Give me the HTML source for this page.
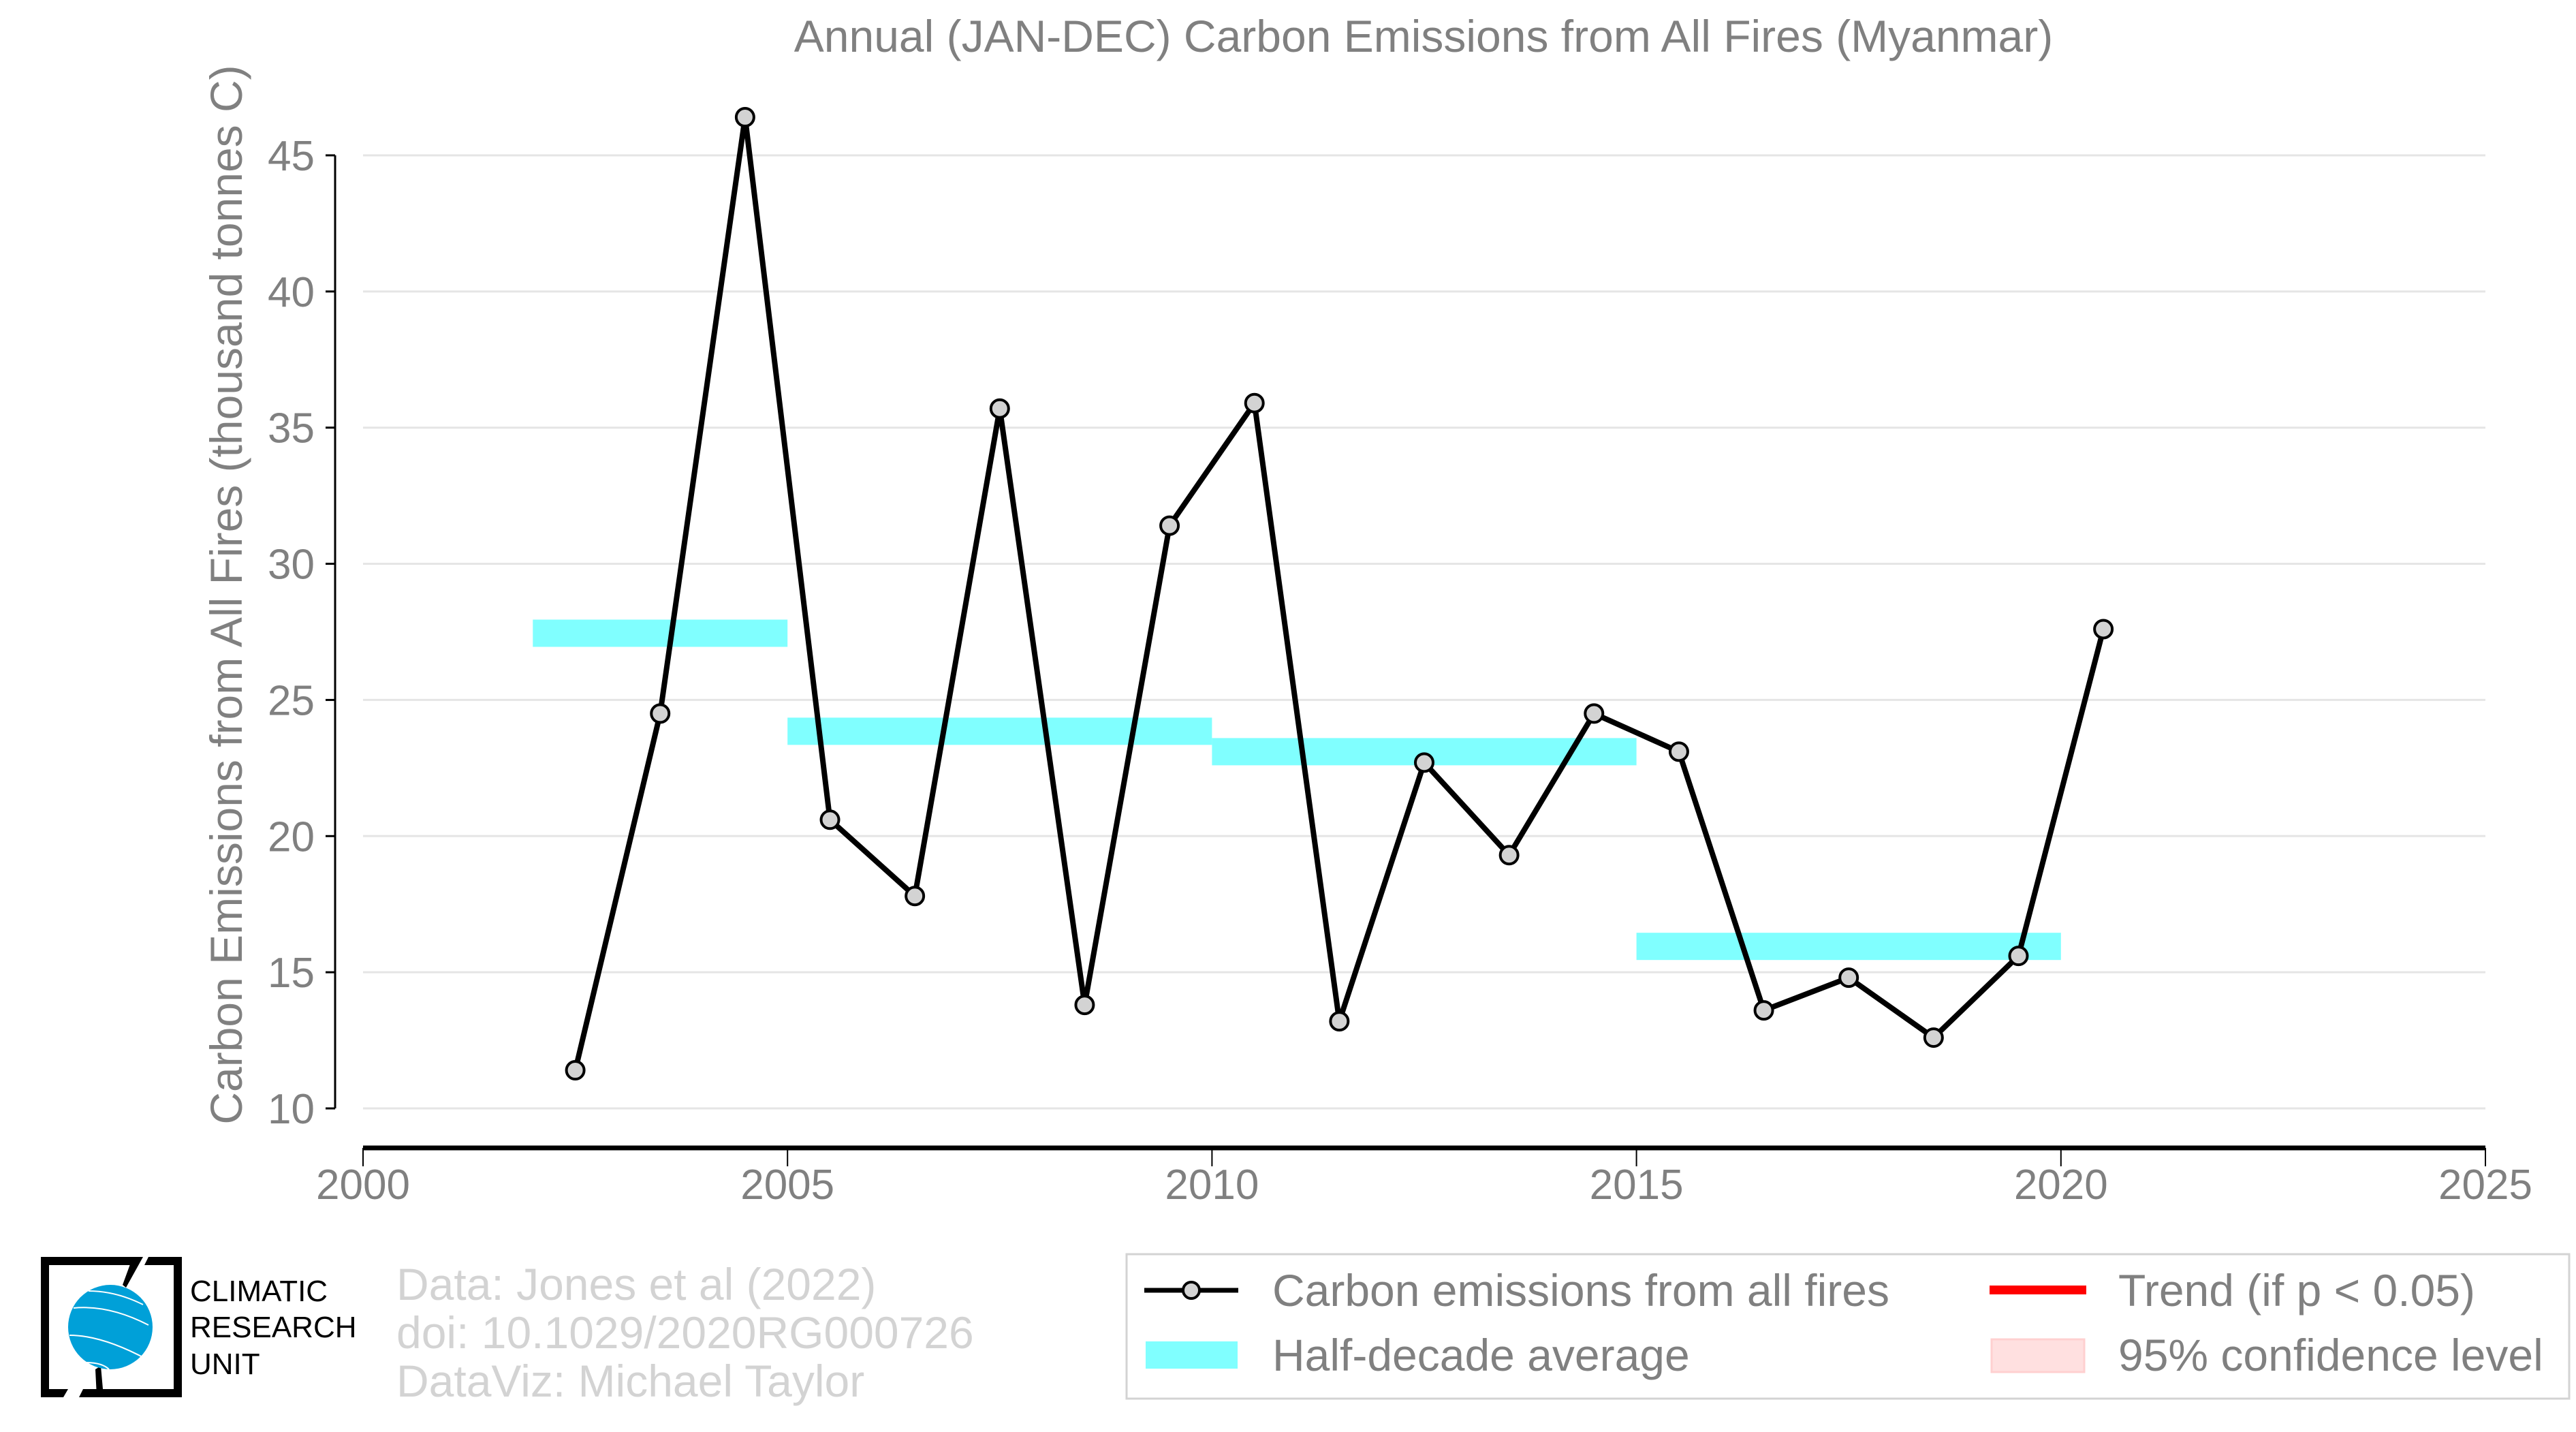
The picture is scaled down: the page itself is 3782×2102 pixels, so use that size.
<!DOCTYPE html>
<html><head><meta charset="utf-8"><style>
html,body{margin:0;padding:0;background:#fff;}
svg{display:block;font-family:"Liberation Sans",sans-serif;}
</style></head><body>
<svg id="chart" width="3782" height="2102" viewBox="0 0 3782 2102">
<text x="2090" y="76" text-anchor="middle" font-size="66" fill="#808080">Annual (JAN-DEC) Carbon Emissions from All Fires (Myanmar)</text>
<g id="grid"></g>
<g id="bars"></g>
<g id="series"></g>
<g id="axes"></g>
<text transform="translate(355,873) rotate(-90)" text-anchor="middle" font-size="66" fill="#808080">Carbon Emissions from All Fires (thousand tonnes C)</text>

<g font-size="66" fill="#d3d3d3">
<text x="582" y="1908">Data: Jones et al (2022)</text>
<text x="582" y="1979">doi: 10.1029/2020RG000726</text>
<text x="582" y="2050">DataViz: Michael Taylor</text>
</g>

<g>
<path d="M60,1845 H210 L197,1857 H72 V2039 H100 L93,2051 H60 Z" fill="#000"/>
<path d="M218,1845 H267 V2051 H116 L122,2039 H255 V1857 H212 Z" fill="#000"/>
<path d="M210,1845 L185,1890 L180,1886 L195,1845Z M142,2050 L140,2010 L148,2005 L152,2050Z" fill="#000"/>
<circle cx="162" cy="1948" r="62" fill="#00a0d8"/>
<path d="M108,1920 Q160,1915 218,1945 M102,1960 Q150,1960 215,1995 M125,2000 Q150,2000 160,2010 M130,1895 Q170,1895 210,1915" stroke="#fff" stroke-width="2" fill="none"/>
<text x="279" y="1910" font-size="44" fill="#000">CLIMATIC</text>
<text x="279" y="1963" font-size="44" fill="#000">RESEARCH</text>
<text x="279" y="2017" font-size="44" fill="#000">UNIT</text>
</g>

<g>
<rect x="1654" y="1841" width="2118" height="212" fill="#fff" stroke="#d3d3d3" stroke-width="3"/>
<g>
<line x1="1680" y1="1894" x2="1818" y2="1894" stroke="#000" stroke-width="7"/>
<circle cx="1749" cy="1894" r="12" fill="#d3d3d3" stroke="#000" stroke-width="4"/>
<text x="1868" y="1917" font-size="66" fill="#808080">Carbon emissions from all fires</text>
</g>
<g>
<rect x="1682" y="1969" width="135" height="40" fill="#80ffff"/>
<text x="1868" y="2012" font-size="66" fill="#808080">Half-decade average</text>
</g>
<g>
<rect x="2921" y="1887" width="142" height="13" fill="#ff0000"/>
<text x="3110" y="1917" font-size="66" fill="#808080">Trend (if p &lt; 0.05)</text>
</g>
<g>
<rect x="2924" y="1966" width="136" height="48" fill="#ffe0e0" stroke="#ffd0d0" stroke-width="3"/>
<text x="3110" y="2012" font-size="66" fill="#808080">95% confidence level</text>
</g>
</g>
</svg>
<script>
const years = [2002,2003,2004,2005,2006,2007,2008,2009,2010,2011,2012,2013,2014,2015,2016,2017,2018,2019,2020];
const emissions = [11.4,24.5,46.4,20.6,17.8,35.7,13.8,31.4,35.9,13.2,22.7,19.3,24.5,23.1,13.6,14.8,12.6,15.6,27.6];
const halfStart = [2002,2005,2010,2015];
const halfEnd = [2005,2010,2015,2020];
const halfAvg = [27.45,23.85,23.1,15.95];
const yTicks = [10,15,20,25,30,35,40,45];
const xTicks = [2000,2005,2010,2015,2020,2025];

const NS = "http://www.w3.org/2000/svg";
const X = v => 533 + (v - 2000) * (3649 - 533) / 25;
const Y = v => 1627 - (v - 10) * (1627 - 228) / 35;
function mk(parent, tag, attrs) {
  const e = document.createElementNS(NS, tag);
  for (const k in attrs) e.setAttribute(k, attrs[k]);
  document.getElementById(parent).appendChild(e);
  return e;
}
yTicks.forEach(t => {
  const g = mk('grid', 'line', {x1: X(2000), x2: X(2025), y1: Y(t), y2: Y(t), stroke: '#e5e5e5', 'stroke-width': 3});
  
  
  const tk = mk('axes', 'line', {x1: 478, x2: 492, y1: Y(t), y2: Y(t), stroke: '#000', 'stroke-width': 3});
  
  
  const lb = mk('axes', 'text', {x: 462, y: Y(t) + 22, 'text-anchor': 'end', 'font-size': 62, fill: '#808080'});
  lb.textContent = t;
  
  
});
const ya = mk('axes', 'line', {x1: 492, x2: 492, y1: Y(45), y2: Y(10), stroke: '#000', 'stroke-width': 3});


const xa = mk('axes', 'line', {x1: X(2000), x2: X(2025), y1: 1685, y2: 1685, stroke: '#000', 'stroke-width': 7});


xTicks.forEach(t => {
  const tk = mk('axes', 'line', {x1: X(t), x2: X(t), y1: 1685, y2: 1712, stroke: '#000', 'stroke-width': 2});
  
  
  const lb = mk('axes', 'text', {x: X(t), y: 1760, 'text-anchor': 'middle', 'font-size': 62, fill: '#808080'});
  lb.textContent = t;
  
  
});
halfAvg.forEach((v, i) => {
  const r = mk('bars', 'rect', {x: X(halfStart[i]), width: X(halfEnd[i]) - X(halfStart[i]), y: Y(v) - 20, height: 40, fill: '#80ffff'});
  
  
});
const pts = years.map((y, i) => X(y + 0.5) + ',' + Y(emissions[i])).join(' ');
const pl = mk('series', 'polyline', {points: pts, fill: 'none', stroke: '#000', 'stroke-width': 8, 'stroke-linejoin': 'round'});


years.forEach((y, i) => {
  const c = mk('series', 'circle', {cx: X(y + 0.5), cy: Y(emissions[i]), r: 13, fill: '#d3d3d3', stroke: '#000', 'stroke-width': 4});
  
  
});
</script>
</body></html>
